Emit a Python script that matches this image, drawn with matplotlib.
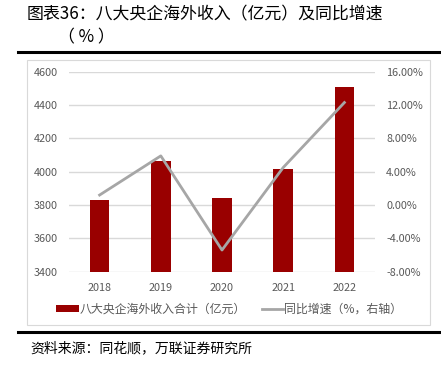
import matplotlib.pyplot as plt
from matplotlib.patches import Rectangle
from matplotlib.lines import Line2D

plt.rcParams['font.family'] = ['Noto Sans CJK SC', 'DejaVu Sans']

# data
years = ['2018', '2019', '2020', '2021', '2022']
revenue = [3830, 4062, 3842, 4016, 4508]      # 亿元
growth = [1.2, 5.9, -5.4, 4.5, 12.3]          # %

left_ticks = [3400, 3600, 3800, 4000, 4200, 4400, 4600]
right_ticks = [-8, -4, 0, 4, 8, 12, 16]

bar_color = '#990000'
line_color = '#a6a6a6'
text_color = '#595959'

fig = plt.figure(figsize=(4.41, 3.66), dpi=100)
W, H = 441, 366

def fx(px):
    return px / W

def fy(py):
    return 1 - py / H

# title
fig.text(fx(27), fy(14), '图表36：八大央企海外收入（亿元）及同比增速', fontsize=12.2,
         va='center', ha='left', color='black', fontweight='light')
fig.text(fx(58), fy(37), '（ % ）', fontsize=12.2, va='center', ha='left',
         color='black', fontweight='light')

# thick rules
fig.add_artist(Line2D([fx(18), 1], [fy(51.5), fy(51.5)], color='black', lw=2.2))
fig.add_artist(Line2D([fx(18), 1], [fy(332), fy(332)], color='black', lw=2.2))

# chart frame
fig.add_artist(Rectangle((fx(27), fy(325)), fx(430) - fx(27), fy(60) - fy(325),
                         fill=False, edgecolor='#d9d9d9', lw=0.8))

ax = fig.add_axes([fx(69), fy(271.7), fx(375) - fx(69), fy(71.7) - fy(271.7)])
x = range(len(years))
ax.bar(x, revenue, width=0.32, color=bar_color, zorder=2)
ax.set_ylim(3400, 4600)
ax.set_xlim(-0.5, len(years) - 0.5)
ax.set_yticks(left_ticks)
ax.set_yticklabels([str(t) for t in left_ticks])
ax.set_xticks(list(x))
ax.set_xticklabels(years)
ax.grid(axis='y', color='#d9d9d9', lw=1.0, zorder=0)
ax.tick_params(length=0, labelsize=7.8, colors=text_color, pad=8)
for s in ax.spines.values():
    s.set_visible(False)

ax2 = ax.twinx()
ax2.plot(list(x), growth, color=line_color, lw=2.0, zorder=3)
ax2.set_ylim(-8, 16)
ax2.set_yticks(right_ticks)
ax2.set_yticklabels([f'{t:.2f}%' for t in right_ticks])
ax2.tick_params(length=0, labelsize=7.8, colors=text_color, pad=8)
for s in ax2.spines.values():
    s.set_visible(False)

# legend
fig.add_artist(Rectangle((fx(56), fy(312)), fx(23), fy(305) - fy(312),
                         facecolor=bar_color, edgecolor='none'))
fig.text(fx(80), fy(309), '八大央企海外收入合计（亿元）', fontsize=8.6,
         color=text_color, va='center', ha='left')
fig.add_artist(Line2D([fx(262), fx(283)], [fy(309), fy(309)], color=line_color, lw=2.0))
fig.text(fx(284), fy(309), '同比增速（%，右轴）', fontsize=8.6,
         color=text_color, va='center', ha='left')

# source
fig.text(fx(30), fy(348), '资料来源：同花顺，万联证券研究所', fontsize=10,
         color='black', va='center', ha='left', style='italic')

fig.savefig('out.png', dpi=100)
